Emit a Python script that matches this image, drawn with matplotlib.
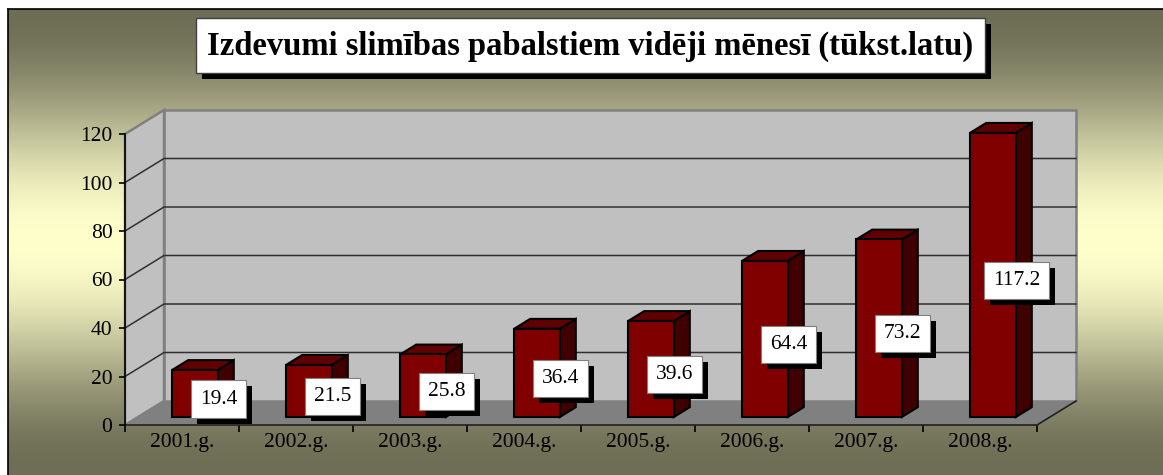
import numpy as np
import matplotlib
matplotlib.use("Agg")
import matplotlib.pyplot as plt
from matplotlib.patches import Polygon, Rectangle
import matplotlib.patheffects as pe

# data
years = ["2001.g.", "2002.g.", "2003.g.", "2004.g.", "2005.g.", "2006.g.", "2007.g.", "2008.g."]
values = [19.4, 21.5, 25.8, 36.4, 39.6, 64.4, 73.2, 117.2]
yticks = [0, 20, 40, 60, 80, 100, 120]
title = "Izdevumi slimības pabalstiem vidēji mēnesī (tūkst.latu)"

plt.rcParams['font.family'] = ['Liberation Serif', 'DejaVu Serif']

W, H = 1163, 475
fig = plt.figure(figsize=(W/100, H/100), dpi=100)

# background gradient (dark olive -> light yellow -> dark olive)
bg = fig.add_axes([8/W, 0, 1-8/W, (H-9)/H])
rows = np.arange(9, H)
t = np.clip(np.abs(rows-240)/232, 0, 1)[:, None]
k = 0.5*(1+np.cos(np.pi*t))
light = np.array([255, 255, 204])/255
dark = np.array([110, 110, 86])/255
grad = dark + (light-dark)*k
bg.imshow(grad[:, None, :], aspect='auto', extent=[0, 1, 0, 1])
bg.set_xticks([])
bg.set_yticks([])
for s in ['right', 'bottom']:
    bg.spines[s].set_visible(False)
bg.spines['top'].set_linewidth(1.2)
bg.spines['left'].set_linewidth(1.2)

# main axes
ax = fig.add_axes([125/W, 50/H, 912/W, 291/H])
ax.patch.set_visible(False)
n = len(values)
ax.set_xlim(0, n)
ax.set_ylim(0, 120)

dxd = 39/114          # depth offset in category units
dyd = 24/(291/120)    # depth offset in value units

wall = '#c0c0c0'
ax.add_patch(Polygon([(dxd, dyd), (n+dxd, dyd), (n+dxd, 120+dyd), (dxd, 120+dyd)],
                     fc=wall, ec='#808080', lw=1.8, clip_on=False, zorder=1))
ax.add_patch(Polygon([(0, 0), (dxd, dyd), (dxd, 120+dyd), (0, 120)],
                     fc=wall, ec='#808080', lw=1.8, clip_on=False, zorder=1))
ax.add_patch(Polygon([(0, 0), (n, 0), (n+dxd, dyd), (dxd, dyd)],
                     fc='#808080', ec='none', clip_on=False, zorder=1))
ax.plot([n, n+dxd], [0, dyd], color='#202020', lw=1.2, clip_on=False, zorder=2)
for v in yticks[1:-1]:
    ax.plot([0, dxd, n+dxd], [v, v+dyd, v+dyd], color='#303030', lw=1.1,
            clip_on=False, zorder=2)

# 3d bars
bw = 0.40
bd = 0.41
f0 = 1/3
for i, v in enumerate(values):
    x0 = i + 0.5 - bw/2 + f0*dxd
    y0 = f0*dyd
    ax.add_patch(Polygon([(x0+bw, y0), (x0+bw+bd*dxd, y0+bd*dyd),
                          (x0+bw+bd*dxd, y0+v+bd*dyd), (x0+bw, y0+v)],
                         fc='#400000', ec='black', lw=1.5, clip_on=False, zorder=3))
    ax.add_patch(Polygon([(x0, y0+v), (x0+bw, y0+v), (x0+bw+bd*dxd, y0+v+bd*dyd),
                          (x0+bd*dxd, y0+v+bd*dyd)],
                         fc='#600000', ec='black', lw=1.5, clip_on=False, zorder=3))
    ax.add_patch(Rectangle((x0, y0), bw, v, fc='#800000', ec='black', lw=1.5,
                           clip_on=False, zorder=3))

    lab = ax.annotate(f"{v:.1f}", (i+0.5+f0*dxd, y0+v/2), xytext=(17, -4),
                      textcoords='offset points', ha='center', va='center',
                      fontsize=15.5, zorder=5,
                      bbox=dict(boxstyle='square,pad=0.42', fc='white', ec='#808080', lw=0.8))
    lab.get_bbox_patch().set_path_effects([
        pe.SimplePatchShadow(offset=(4.3, -4.3), shadow_rgbFace='black', alpha=1),
        pe.Normal()])

# axes styling
for s in ['top', 'right']:
    ax.spines[s].set_visible(False)
ax.spines['left'].set_linewidth(1.2)
ax.spines['bottom'].set_linewidth(1.2)
ax.spines['bottom'].set_color('#202020')
ax.spines['left'].set_zorder(4)
ax.set_yticks(yticks)
ax.set_yticklabels([str(v) for v in yticks], fontsize=15.5)
ax.set_xticks(range(n+1))
ax.set_xticklabels([])
ax.set_xticks(np.arange(n)+0.5, minor=True)
ax.set_xticklabels(years, minor=True, fontsize=15.5)
ax.tick_params(axis='y', direction='out', length=4, width=1.2, pad=5)
ax.tick_params(axis='x', which='major', direction='out', length=5, width=1.2)
ax.tick_params(axis='x', which='minor', length=0, pad=6)

# title box with shadow
bx, by, bwid, bh = 196, 18, 789, 55
fig.patches.append(Rectangle(((bx+6)/W, 1-(by+bh+6)/H), bwid/W, bh/H,
                             transform=fig.transFigure, fc='black', ec='none', zorder=1))
fig.patches.append(Rectangle((bx/W, 1-(by+bh)/H), bwid/W, bh/H,
                             transform=fig.transFigure, fc='white', ec='#404040',
                             lw=1, zorder=1))
fig.text((bx+bwid/2)/W, 1-(by+bh/2+1)/H, title, ha='center', va='center',
         fontsize=23.5, fontweight='bold', zorder=3)

fig.savefig("out.png", dpi=100)
